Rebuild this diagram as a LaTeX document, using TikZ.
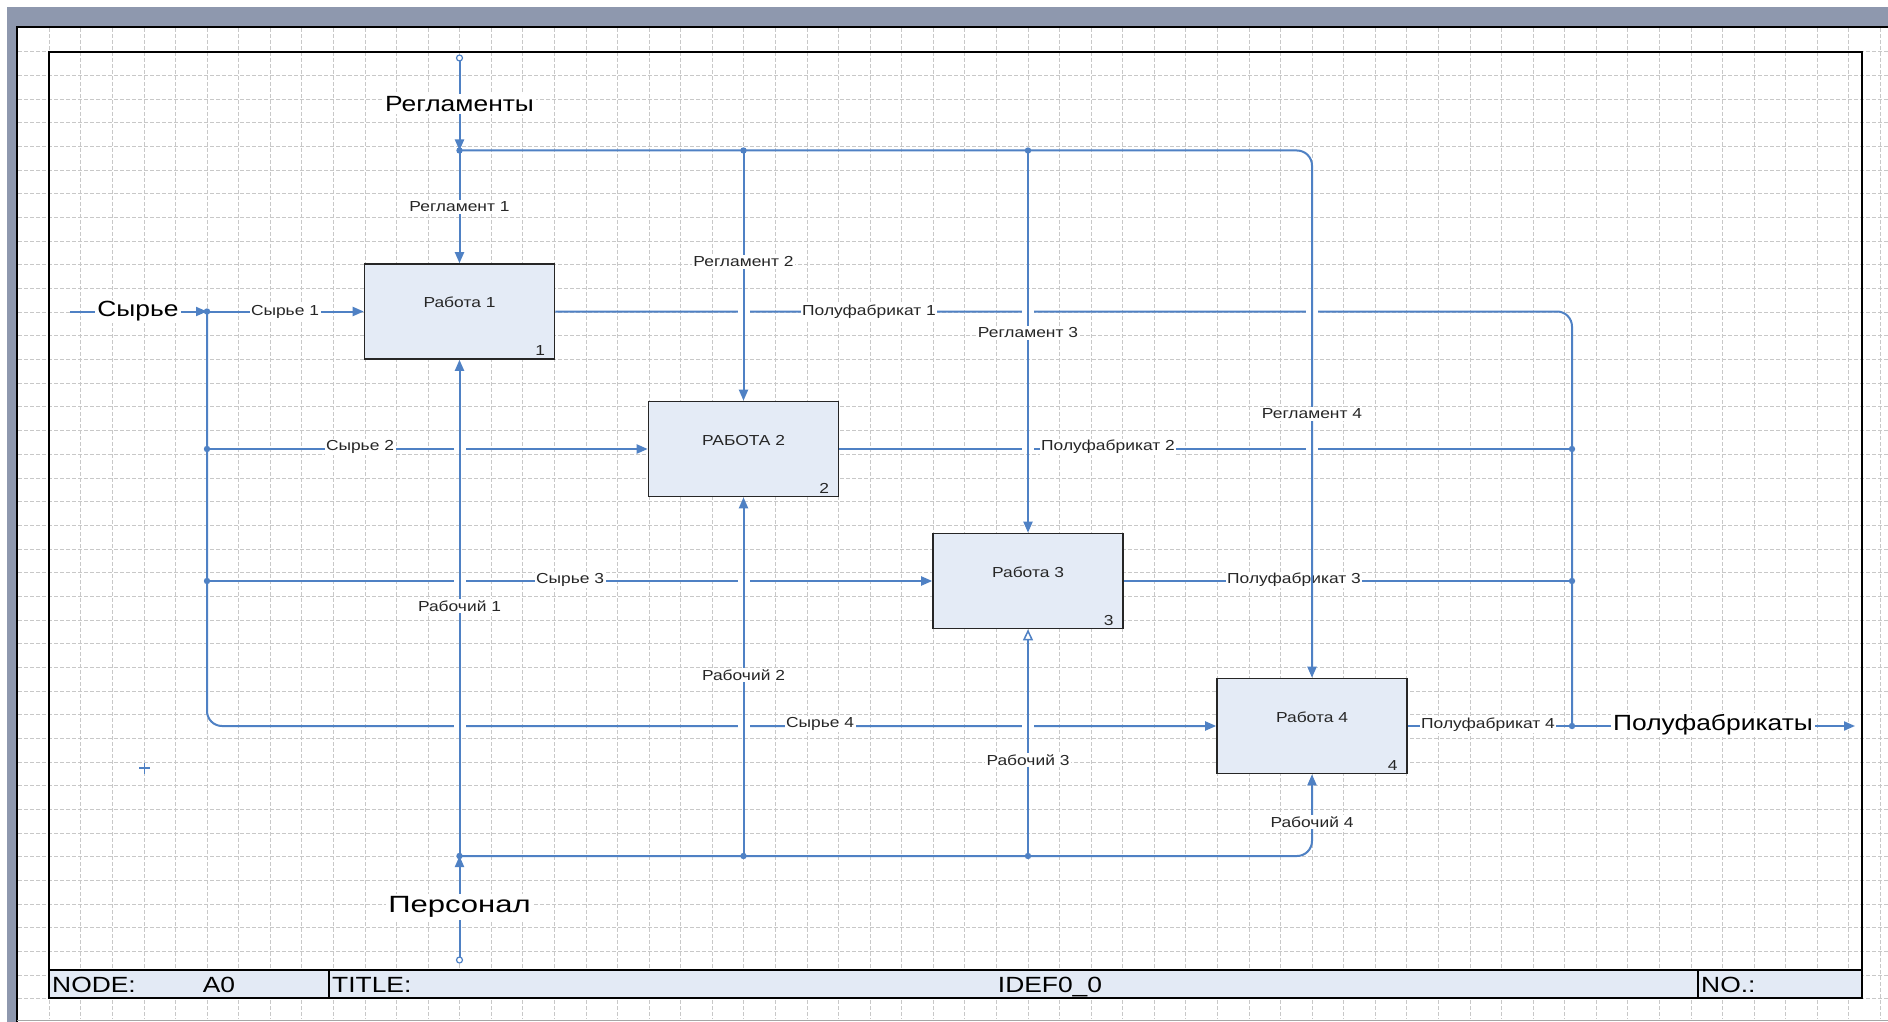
\documentclass[tikz,border=0pt]{standalone}
\usepackage{fontspec}
\setmainfont{Liberation Sans}[FakeStretch=1.2]
\usetikzlibrary{arrows.meta}
\definecolor{idefblue}{RGB}{79,129,196}
\definecolor{framegray}{RGB}{142,152,174}
\definecolor{gridgray}{RGB}{200,200,200}
\definecolor{workfill}{RGB}{228,235,246}
\definecolor{titlefill}{RGB}{227,234,245}
\definecolor{inktext}{RGB}{38,38,38}
\tikzset{
	work/.style={draw=black!85,fill=workfill,line width=1.6pt,minimum width=190pt,minimum height=95pt,inner sep=0pt},
	worktext/.style={font=\fontsize{14.5}{17}\selectfont,text=inktext,inner sep=0pt},
	flow/.style={draw=idefblue,line width=2pt},
	flowarrow/.style={flow,-{Triangle[length=11pt,width=9pt]}},
	flowopen/.style={flow,-{Triangle[open,length=11pt,width=10pt,line width=1.5pt,fill=white]}},
	tag/.style={fill=white,inner sep=1.5pt,font=\fontsize{14.5}{17}\selectfont,text=inktext},
	bigtag/.style={fill=white,inner sep=2pt,font=\fontsize{22}{26}\selectfont,text=black},
	titletext/.style={inner sep=0pt,font=\fontsize{22}{26}\selectfont,text=black},
	gridline/.style={draw=gridgray,line width=0.8pt,dash pattern=on 4pt off 2pt},
}
\newcommand{\crossgap}[2]{\path (#1 |- #2) coordinate (gapc);
	\fill[white] ([shift={(-6,-3)}]gapc) rectangle ([shift={(6,3)}]gapc);}

\begin{document}
\begin{tikzpicture}[x=1pt,y=-1pt]
	\useasboundingbox (0,0) rectangle (1888,1022);
	\fill[white] (0,0) rectangle (1888,1022);
	\fill[framegray] (7,7) rectangle (1888,27);
	\fill[framegray] (7,7) rectangle (17,1022);
	\foreach \i in {1,...,59}
		\draw[gridline] ({17.7+31.57*\i},28) -- ({17.7+31.57*\i},1019);
	\foreach \j in {1,...,41}
		\draw[gridline] (18,{28+23.68*\j}) -- (1888,{28+23.68*\j});
	\draw[line width=1.5pt] (17,1022) -- (17,27) -- (1888,27);
	\draw[gray!70,line width=1pt] (17,1020) -- (1888,1020);
	\draw[line width=1.6pt] (49,52) rectangle (1862,998);
	\draw[line width=1.6pt,fill=titlefill] (49,970) rectangle (1862,998);
	\draw[line width=1.6pt] (329,970) -- (329,998);
	\draw[line width=1.6pt] (1698,970) -- (1698,998);
	\node[titletext,anchor=base west] (nodecap) at (52,992) {NODE:};
	\node[titletext,anchor=base] (nodeval) at (219,992) {A0};
	\node[titletext,anchor=base west] (titlecap) at (332,992) {TITLE:};
	\node[titletext,anchor=base] (titleval) at (1050,992) {IDEF0\_0};
	\node[titletext,anchor=base west] (nocap) at (1701,992) {NO.:};

	\node[work] (b1) at (459.5,311.5) {};
	\node[work] (b2) at (743.5,449) {};
	\node[work] (b3) at (1028,581) {};
	\node[work] (b4) at (1312,726) {};
	\node[worktext,anchor=base] (b1name) at ([yshift=4pt]b1.center) {Работа 1};
	\node[worktext,anchor=base] (b2name) at ([yshift=4pt]b2.center) {РАБОТА 2};
	\node[worktext,anchor=base] (b3name) at ([yshift=4pt]b3.center) {Работа 3};
	\node[worktext,anchor=base] (b4name) at ([yshift=4pt]b4.center) {Работа 4};
	\foreach \k in {1,...,4}
		\node[worktext,anchor=base east] (b\k num) at ([shift={(-10pt,4pt)}]b\k.south east) {\k};

	\coordinate (regin) at (459.5,58);
	\coordinate (regj) at (459.5,150.5);
	\coordinate (perin) at (459.5,960);
	\coordinate (perj) at (459.5,856);
	\coordinate (rawin) at (70,311.5);
	\coordinate (rawj) at (207,311.5);
	\coordinate (outj) at (1572,726);
	\coordinate (outend) at (1855,726);
	\coordinate (marker) at (144.5,768);

	\draw[flowarrow] (rawin) -- (rawj);
	\draw[flowarrow] (rawj) -- (b1.west);
	\draw[flowarrow] (rawj |- b2) -- (b2.west);
	\draw[flowarrow] (rawj |- b3) -- (b3.west);
	\draw[flowarrow,rounded corners=15pt] (rawj) -- (rawj |- b4) -- (b4.west);
	\draw[flow,rounded corners=15pt] (b1.east) -- (b1.east -| outj) -- (outj);
	\draw[flow] (b2.east) -- (b2.east -| outj);
	\draw[flow] (b3.east) -- (b3.east -| outj);
	\draw[flow] (b4.east) -- (outj);
	\draw[flowarrow] (outj) -- (outend);
	\foreach \i in {1,...,4}
		\foreach \j in {1,...,4}
			{\ifnum\i=\j\else\crossgap{b\i}{b\j}\fi}

	\node[bigtag] (rawtag) at (138,311.5) {Сырье};
	\node[tag] (raw1) at (285,311.5) {Сырье 1};
	\node[tag] (raw2) at (360,447) {Сырье 2};
	\node[tag] (raw3) at (570,580) {Сырье 3};
	\node[tag] (raw4) at (820,724) {Сырье 4};
	\node[tag] (semi1) at (869,311.5) {Полуфабрикат 1};
	\node[tag] (semi2) at (1108,447) {Полуфабрикат 2};
	\node[tag] (semi3) at (1294,580) {Полуфабрикат 3};
	\node[tag] (semi4) at (1488,725) {Полуфабрикат 4};
	\node[bigtag] (semitag) at (1713,725) {Полуфабрикаты};

	\draw[flowarrow] (regin) -- (regj);
	\draw[flowarrow] (regj) -- (b1.north);
	\draw[flowarrow] (regj -| b2) -- (b2.north);
	\draw[flowarrow] (regj -| b3) -- (b3.north);
	\draw[flowarrow,rounded corners=15pt] (regj) -- (regj -| b4) -- (b4.north);
	\draw[flowarrow] (perin) -- (perj);
	\draw[flowarrow] (perj) -- (b1.south);
	\draw[flowarrow] (perj -| b2) -- (b2.south);
	\draw[flowopen] (perj -| b3) -- (b3.south);
	\draw[flowarrow,rounded corners=15pt] (perj) -- (perj -| b4) -- (b4.south);
	\draw[idefblue,line width=1.2pt,fill=white] (regin) circle (3pt);
	\draw[idefblue,line width=1.2pt,fill=white] (perin) circle (3pt);
	\foreach \p in {(rawj),(rawj |- b2),(rawj |- b3),(b2.east -| outj),(b3.east -| outj),(outj),(regj),(regj -| b2),(regj -| b3),(perj),(perj -| b2),(perj -| b3)}
		\fill[idefblue] \p circle (3.2pt);

	\node[bigtag] (regtag) at (459.5,104) {Регламенты};
	\node[tag] (reg1) at (459.5,207) {Регламент 1};
	\node[tag] (reg2) at (743.5,262) {Регламент 2};
	\node[tag] (reg3) at (1028,333) {Регламент 3};
	\node[tag] (reg4) at (1312,414) {Регламент 4};
	\node[tag] (staff1) at (459.5,606) {Рабочий 1};
	\node[tag] (staff2) at (743.5,675) {Рабочий 2};
	\node[tag] (staff3) at (1028,760) {Рабочий 3};
	\node[tag] (staff4) at (1312,822) {Рабочий 4};
	\node[bigtag] (pertag) at (459.5,907) {\scalebox{1.1}[1]{\fontsize{23.5}{28}\selectfont Персонал}};

	\draw[idefblue,line width=1.6pt] ([xshift=-5.5pt]marker) -- ([xshift=5.5pt]marker);
	\draw[idefblue,line width=1.6pt] ([yshift=-5.5pt]marker) -- ([yshift=5.5pt]marker);
\end{tikzpicture}
\end{document}
